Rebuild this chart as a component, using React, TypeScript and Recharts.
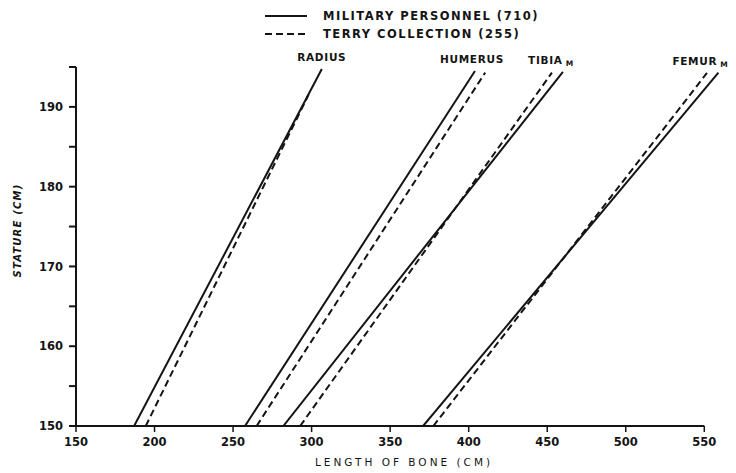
import React from 'react';
import { LineChart, Line, XAxis, YAxis, ReferenceLine } from 'recharts';

const xTicks = [150, 200, 250, 300, 350, 400, 450, 500, 550];
const yTicks = [150, 155, 160, 165, 170, 175, 180, 185, 190, 195];
const yLabelled = [150, 160, 170, 180, 190];

const legendMilitary = 'MILITARY PERSONNEL (710)';
const legendTerry = 'TERRY COLLECTION (255)';

const radiusMilitary = [{ x: 187, y: 150 }, { x: 306.5, y: 194.75 }];
const radiusTerry = [{ x: 194.4, y: 150 }, { x: 298, y: 191.5 }];
const humerusMilitary = [{ x: 257.6, y: 150 }, { x: 404, y: 194.5 }];
const humerusTerry = [{ x: 265, y: 150 }, { x: 410.5, y: 194.3 }];
const tibiaMilitary = [{ x: 282, y: 150 }, { x: 460, y: 194.4 }];
const tibiaTerry = [{ x: 292.7, y: 150 }, { x: 453, y: 194.3 }];
const femurMilitary = [{ x: 371, y: 150 }, { x: 559, y: 194.3 }];
const femurTerry = [{ x: 377.5, y: 150 }, { x: 551.7, y: 194.25 }];

const axisSegment = [{ x: 150, y: 150 }, { x: 550, y: 150 }];

const FONT = '"DejaVu Sans", sans-serif';
const INK = '#141414';

const bones = [
  { name: 'RADIUS', sub: '', military: radiusMilitary, terry: radiusTerry, dx: 0 },
  { name: 'HUMERUS', sub: '', military: humerusMilitary, terry: humerusTerry, dx: -3 },
  { name: 'TIBIA', sub: 'M', military: tibiaMilitary, terry: tibiaTerry, dx: -12 },
  { name: 'FEMUR', sub: 'M', military: femurMilitary, terry: femurTerry, dx: -18 },
];

const makeLabel = (name: string, sub: string, dx: number) => (p: any) => {
  if (p.index !== 1) return null;
  return (
    <text
      x={p.x + dx}
      y={p.y - 8}
      textAnchor="middle"
      fontFamily={FONT}
      fontSize={10.5}
      fontWeight="bold"
      letterSpacing={0.7}
      fill={INK}
    >
      {name}
      {sub ? (
        <tspan fontSize={7.5} dx={3} dy={2}>
          {sub}
        </tspan>
      ) : null}
    </text>
  );
};

const LegendBox = () => (
  <div
    style={{
      position: 'absolute',
      left: 257,
      top: -1,
      fontFamily: FONT,
      fontWeight: 'bold',
      fontSize: 11.5,
      letterSpacing: 1.5,
      color: INK,
    }}
  >
    {[
      { text: legendMilitary, dash: undefined },
      { text: legendTerry, dash: '7 4' },
    ].map((r, i) => (
      <div key={i} style={{ display: 'flex', alignItems: 'center', height: 18, whiteSpace: 'nowrap' }}>
        <svg width={42} height={4} style={{ marginRight: 16 }}>
          <line x1={0} y1={2} x2={42} y2={2} stroke={INK} strokeWidth={2.2} strokeDasharray={r.dash} />
        </svg>
        <span>{r.text}</span>
      </div>
    ))}
  </div>
);

export default function App() {
  return (
    <div style={{ position: 'relative', width: 720, height: 463, background: '#fff' }}>
      <LineChart width={720} height={463} margin={{ top: 59, right: 8, left: 0, bottom: 15 }}>
        <XAxis
          type="number"
          dataKey="x"
          domain={[150, 560]}
          ticks={xTicks}
          axisLine={false}
          tickLine={{ stroke: INK, strokeWidth: 1.5 }}
          tickSize={6}
          tickMargin={6}
          height={30}
          allowDataOverflow
          tick={{ fontFamily: FONT, fontSize: 11.5, fontWeight: 'bold', fill: INK }}
          label={{
            content: (props: any) => {
              const vb = props.viewBox;
              return (
                <text
                  x={vb.x + vb.width / 2 + 6}
                  y={vb.y + vb.height + 10}
                  textAnchor="middle"
                  fontFamily={FONT}
                  fontSize={10.5}
                  letterSpacing={3}
                  fill={INK}
                >
                  LENGTH OF BONE (CM)
                </text>
              );
            },
          }}
        />
        <YAxis
          type="number"
          dataKey="y"
          domain={[150, 195]}
          ticks={yTicks}
          width={68}
          axisLine={{ stroke: INK, strokeWidth: 2 }}
          tickLine={{ stroke: INK, strokeWidth: 2 }}
          tickSize={7}
          tickMargin={6}
          allowDataOverflow
          tickFormatter={(v: number) => (yLabelled.includes(v) ? String(v) : '')}
          tick={{ fontFamily: FONT, fontSize: 11.5, fontWeight: 'bold', fill: INK }}
          label={{
            content: (props: any) => {
              const vb = props.viewBox;
              const cx = 10;
              const cy = vb.y + vb.height / 2 - 16;
              return (
                <text
                  x={cx}
                  y={cy}
                  transform={`rotate(-90 ${cx} ${cy})`}
                  textAnchor="middle"
                  dominantBaseline="middle"
                  fontFamily={FONT}
                  fontSize={10}
                  fontWeight="bold"
                  fontStyle="italic"
                  letterSpacing={1.2}
                  fill={INK}
                >
                  STATURE (CM)
                </text>
              );
            },
          }}
        />
        <ReferenceLine segment={axisSegment} stroke={INK} strokeWidth={2} ifOverflow="visible" />
        {bones.map((b) => (
          <Line
            key={b.name + '-t'}
            data={b.terry}
            dataKey="y"
            type="linear"
            stroke={INK}
            strokeWidth={2}
            strokeDasharray="7 4"
            dot={false}
            isAnimationActive={false}
          />
        ))}
        {bones.map((b) => (
          <Line
            key={b.name + '-m'}
            data={b.military}
            dataKey="y"
            type="linear"
            stroke={INK}
            strokeWidth={2}
            dot={false}
            isAnimationActive={false}
            label={makeLabel(b.name, b.sub, b.dx)}
          />
        ))}
      </LineChart>
      <LegendBox />
    </div>
  );
}
